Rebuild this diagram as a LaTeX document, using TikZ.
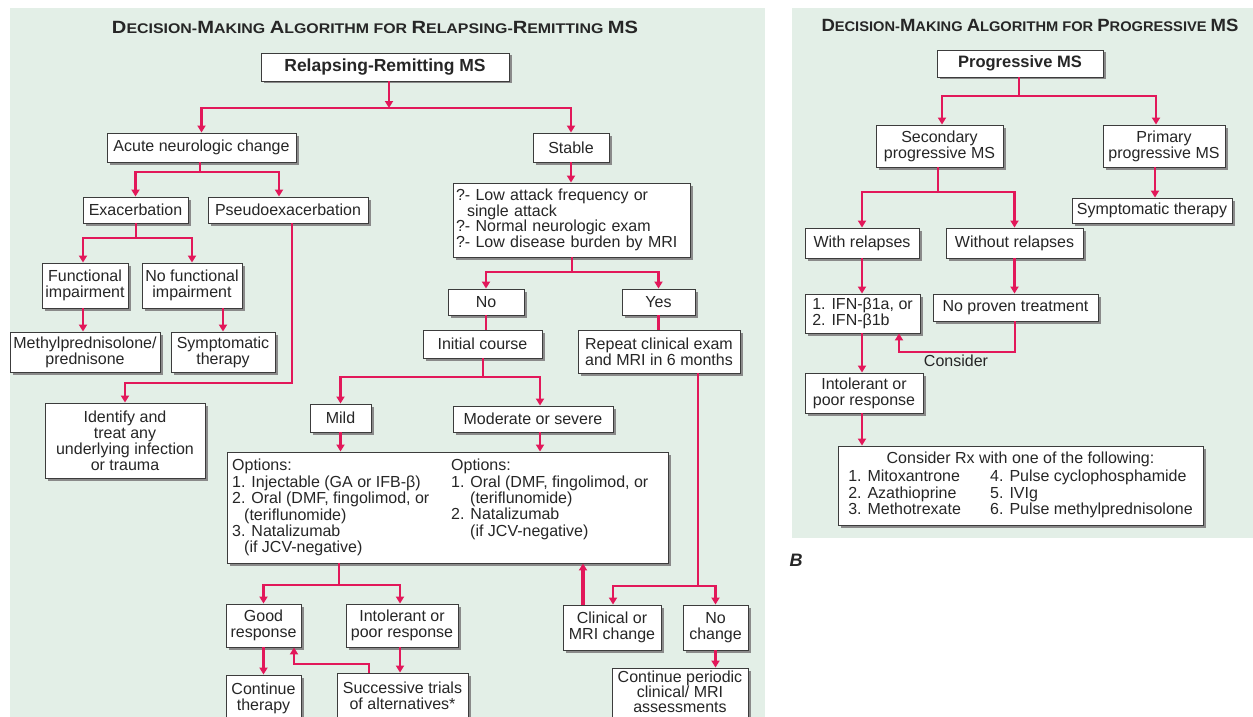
\documentclass[tikz,border=0pt]{standalone}
\usepackage{fontspec}
\setmainfont{Liberation Sans}
\usepackage{graphicx}
\usetikzlibrary{arrows.meta,shadows,calc}
\definecolor{bgA}{HTML}{E3EFE7}
\definecolor{rd}{HTML}{E2185A}
\definecolor{bd}{HTML}{3C3C3C}
\definecolor{sh}{HTML}{8A8A8A}
\newcommand\bigL[1]{{\fontsize{17.7}{18}\selectfont #1}}
\begin{document}
\begin{tikzpicture}[x=1pt,y=-1pt,
  wh/.style 2 args={minimum width=#1pt, minimum height=#2pt},
  box/.style={draw=bd, line width=0.9pt, fill=white, inner xsep=2pt, inner ysep=1pt,
    align=center, text=black!85, font=\fontsize{16}{16}\selectfont,
    drop shadow={shadow xshift=2.5pt,shadow yshift=-2.5pt,fill=sh,opacity=1}},
  txt/.style={inner sep=0pt, align=left, text=black!85, font=\fontsize{16}{16.4}\selectfont},
  line/.style={draw=rd, line width=2.6pt},
  arr/.style={line, -{Triangle[width=8pt,length=7pt]}},
  bus/.style={line, {Triangle[width=8pt,length=7pt]}-{Triangle[width=8pt,length=7pt]}}
]
\useasboundingbox (0,0) rectangle (1253,717);
\clip (0,0) rectangle (1253,717);
\fill[white] (0,0) rectangle (1253,717);
\fill[bgA] (10,8) rectangle (765,717);
\fill[bgA] (792,8) rectangle (1253,538);

% titles
\node[inner sep=0pt, text=black!85] (titleA) at (375,27) {\bfseries\fontsize{14}{14}\selectfont\resizebox{526pt}{\height}{\bigL{D}ECISION-\bigL{M}AKING \bigL{A}LGORITHM FOR \bigL{R}ELAPSING-\bigL{R}EMITTING \bigL{MS}}};
\node[inner sep=0pt, text=black!85] (titleB) at (1030,25) {\bfseries\fontsize{14}{14}\selectfont\resizebox{417pt}{\height}{\bigL{D}ECISION-\bigL{M}AKING \bigL{A}LGORITHM FOR \bigL{P}ROGRESSIVE \bigL{MS}}};
\node[inner sep=0pt, text=black!85] (lblB) at (796,560) {\bfseries\itshape\fontsize{18}{18}\selectfont B};

% ---------- Panel A nodes
\node[box, wh={248}{28}, font=\bfseries\fontsize{17.5}{18}\selectfont] (rr) at (385,67) {Relapsing-Remitting MS};
\node[box, wh={189}{29}] (acute) at (201.5,147.5) {Acute neurologic change};
\node[box, wh={76}{29}] (stable) at (571,147.5) {Stable};
\node[box, wh={105}{26}] (exac) at (135.5,210) {Exacerbation};
\node[box, wh={160}{26}] (pseudo) at (288,210) {Pseudoexacerbation};
\node[box, wh={86}{45}] (func) at (85,285.5) {Functional\\impairment};
\node[box, wh={100}{45}] (nofunc) at (192,285.5) {No functional\\impairment};
\node[box, wh={150}{40}] (methyl) at (85,352) {Methylprednisolone/\\prednisone};
\node[box, wh={104}{40}] (sympt) at (223,352) {Symptomatic\\therapy};
\node[box, wh={160}{75}] (ident) at (125,440.5) {Identify and\\treat any\\underlying infection\\or trauma};
\node[box, wh={237}{74}, text width=231pt, align=left, font=\fontsize{16}{15.5}\selectfont] (qbox) at (571.5,220) {?- Low attack frequency or\\\hspace*{11pt}single attack\\?- Normal neurologic exam\\?- Low disease burden by MRI};
\node[box, wh={76}{26}] (no) at (486,302) {No};
\node[box, wh={73}{26}] (yes) at (658.5,302) {Yes};
\node[box, wh={119}{28}] (init) at (482.5,344) {Initial course};
\node[box, wh={162}{43}] (repeat) at (659,351.5) {Repeat clinical exam\\and MRI in 6 months};
\node[box, wh={61}{28}] (mild) at (340.5,418) {Mild};
\node[box, wh={160}{26}] (mod) at (533,419) {Moderate or severe};
\node[box, wh={441}{111}] (opts) at (447.5,507.5) {};
\node[txt, anchor=north west] (optsL) at (232,459) {Options:\\1. Injectable (GA or IFB-β)\\2. Oral (DMF, fingolimod, or\\\hspace*{12pt}(teriflunomide)\\3. Natalizumab\\\hspace*{12pt}(if JCV-negative)};
\node[txt, anchor=north west] (optsR) at (451,459) {Options:\\1. Oral (DMF, fingolimod, or\\\hspace*{19pt}(teriflunomide)\\2. Natalizumab\\\hspace*{19pt}(if JCV-negative)};
\node[box, wh={75}{43}] (good) at (263.5,625.5) {Good\\response};
\node[box, wh={112}{43}] (intol) at (402,625.5) {Intolerant or\\poor response};
\node[box, wh={75}{50}] (cont) at (263.5,700) {Continue\\therapy\rule[-6pt]{0pt}{0pt}};
\node[box, wh={131}{52}] (succ) at (402.5,699) {Successive trials\\of alternatives*\rule[-6pt]{0pt}{0pt}};
\node[box, wh={98}{45}] (clin) at (612,627.5) {Clinical or\\MRI change};
\node[box, wh={65}{45}] (noch) at (715.5,627.5) {No\\change};
\node[box, wh={136}{60}, font=\fontsize{16}{15}\selectfont] (cper) at (680,698) {Continue periodic\\clinical/ MRI\\assessments\rule[-12pt]{0pt}{0pt}};

% ---------- Panel B nodes
\node[box, wh={166}{27}, font=\bfseries\fontsize{16.5}{17}\selectfont] (prog) at (1020,63.5) {Progressive MS};
\node[box, wh={127}{42}] (sec) at (939.5,146) {Secondary\\progressive MS};
\node[box, wh={122}{42}] (prim) at (1164,146) {Primary\\progressive MS};
\node[box, wh={160}{25}] (symp2) at (1152,210.5) {Symptomatic therapy};
\node[box, wh={114}{30}] (withr) at (862,243) {With relapses};
\node[box, wh={137}{30}] (without) at (1014.5,243) {Without relapses};
\node[box, wh={115}{39}, align=left] (ifn) at (862.5,313.5) {1. IFN-β1a, or\\2. IFN-β1b};
\node[box, wh={165}{27}] (noproven) at (1015.5,307.5) {No proven treatment};
\node[box, wh={118}{40}] (intol2) at (864,393) {Intolerant or\\poor response};
\node[box, wh={365}{79}] (rx) at (1020.5,485.5) {Consider Rx with one of the following:\\[3pt]\begin{tabular}{@{}p{142pt}@{}l@{}}1. Mitoxantrone & 4. Pulse cyclophosphamide\\2. Azathioprine & 5. IVIg\\3. Methotrexate & 6. Pulse methylprednisolone\end{tabular}};
\node[txt] (consider) at (956,361) {Consider};

% ---------- Panel A connectors
\coordinate (jA) at (389,108);
\draw[arr] (rr.south -| jA) -- (jA);
\draw[bus] (acute.north) |- (jA) -| (stable.north);
\coordinate (jB) at (200,172);
\draw[line] (acute.south -| jB) -- (jB);
\draw[bus] (exac.north) |- (jB) -| ([xshift=-9pt]pseudo.north);
\coordinate (jC) at (136,238);
\draw[line] (exac.south -| jC) -- (jC);
\draw[bus] ([xshift=-2pt]func.north) |- (jC) -| (nofunc.north);
\draw[arr] ([xshift=-2pt]func.south) -- ([xshift=-2pt]func.south |- methyl.north);
\draw[arr] (sympt.north |- nofunc.south) -- (sympt.north);
\coordinate (jD) at (292,383);
\draw[arr] (pseudo.south -| jD) -- (jD) -| (ident.north);
\draw[arr] (stable.south) -- (stable.south |- qbox.north);
\coordinate (jE) at (572,272);
\draw[line] (qbox.south -| jE) -- (jE);
\draw[bus] (no.north) |- (jE) -| (yes.north);
\draw[line] (no.south) -- (no.south |- init.north);
\draw[line] (yes.south) -- (yes.south |- repeat.north);
\coordinate (jF) at (483,377);
\draw[line] (init.south -| jF) -- (jF);
\draw[bus] (mild.north) |- (jF) -| ([xshift=7pt]mod.north);
\draw[arr] (mild.south) -- (mild.south |- opts.north);
\draw[arr] ([xshift=7pt]mod.south) -- ([xshift=7pt]mod.south |- opts.north);
\coordinate (jG) at (339,585);
\draw[line] (opts.south -| jG) -- (jG);
\draw[bus] (good.north) |- (jG) -| ([xshift=-2pt]intol.north);
\draw[arr] (good.south) -- (cont.north);
\draw[arr] ([xshift=-2pt]intol.south) -- ([xshift=-2pt]intol.south |- succ.north);
\coordinate (jH) at (369,664);
\draw[arr] (succ.north -| jH) -- (jH) -| ([xshift=30.5pt]good.south);
\coordinate (jI) at (698,586);
\draw[line] (repeat.south -| jI) -- (jI);
\draw[bus] ([xshift=1pt]clin.north) |- (jI) -| (noch.north);
\coordinate (cu) at (583,0);
\draw[arr, line width=3.2pt] (clin.north -| cu) -- (opts.south -| cu);
\draw[arr] (noch.south) -- (noch.south |- cper.north);

% ---------- Panel B connectors
\coordinate (jJ) at (1019,96);
\draw[line] (prog.south -| jJ) -- (jJ);
\draw[bus] ([xshift=2.5pt]sec.north) |- (jJ) -| ([xshift=-8pt]prim.north);
\draw[arr] ([xshift=-9pt]prim.south) -- ([xshift=-9pt]prim.south |- symp2.north);
\coordinate (jK) at (938,192);
\draw[line] (sec.south -| jK) -- (jK);
\draw[bus] (withr.north) |- (jK) -| (without.north);
\draw[arr] (withr.south) -- (withr.south |- ifn.north);
\draw[arr] (without.south) -- (without.south |- noproven.north);
\coordinate (jL) at (1015,352);
\draw[arr] (noproven.south -| jL) -- (jL) -| ([xshift=36.5pt]ifn.south);
\draw[arr] (ifn.south -| withr.south) -- (withr.south |- intol2.north);
\draw[arr] (intol2.south -| withr.south) -- (withr.south |- rx.north);
\end{tikzpicture}
\end{document}
